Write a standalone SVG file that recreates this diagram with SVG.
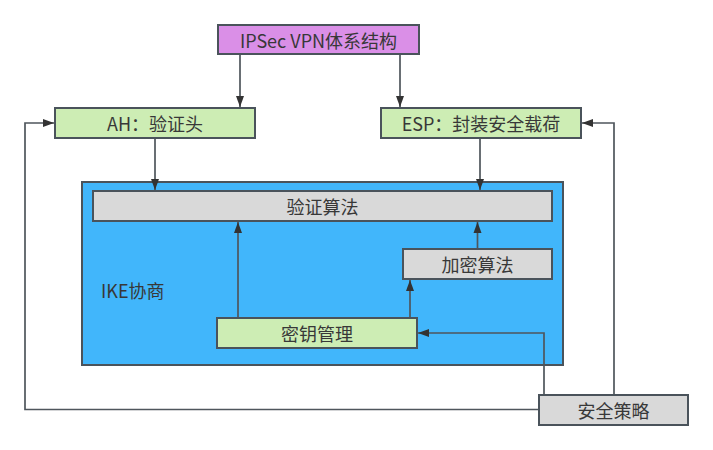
<svg xmlns="http://www.w3.org/2000/svg" width="713" height="450" viewBox="0 0 713 450">
<style>
.box{stroke:#4a535b;stroke-width:2}
.purple{fill:#da8fe7}
.green{fill:#cdedb4}
.gray{fill:#d9d9d9}
.blue{fill:#41b6fb}
.lbl{font-family:"Noto Sans CJK SC","Noto Sans",sans-serif;font-size:18px;fill:#383838;text-anchor:middle;dominant-baseline:central}
.edge{fill:none;stroke:#4f565c;stroke-width:1.7}
</style>
<defs>
<marker id="arr" viewBox="0 0 11 10" refX="11" refY="5" markerWidth="11" markerHeight="10" markerUnits="userSpaceOnUse" orient="auto">
<path d="M0,1 L11,5 L0,9 Z" fill="#333"/>
</marker>
</defs>
<rect width="713" height="450" fill="#fff"/>
<g id="ike">
<rect class="box blue" x="82" y="182" width="481" height="183"/>
<text class="lbl" x="101" y="290" style="text-anchor:start">IKE协商</text>
</g>
<g id="ipsec">
<rect class="box purple" x="218" y="25" width="201" height="29"/>
<text class="lbl" x="318.5" y="40">IPSec VPN体系结构</text>
</g>
<g id="ah">
<rect class="box green" x="55" y="108" width="200" height="30"/>
<text class="lbl" x="155" y="123">AH：验证头</text>
</g>
<g id="esp">
<rect class="box green" x="381" y="108" width="200" height="30"/>
<text class="lbl" x="481" y="123">ESP：封装安全载荷</text>
</g>
<g id="verify">
<rect class="box gray" x="93" y="191" width="459" height="30"/>
<text class="lbl" x="322.5" y="206">验证算法</text>
</g>
<g id="encrypt">
<rect class="box gray" x="403" y="249" width="149" height="30"/>
<text class="lbl" x="477.5" y="264">加密算法</text>
</g>
<g id="keymgmt">
<rect class="box green" x="217" y="318" width="200" height="30"/>
<text class="lbl" x="317" y="333">密钥管理</text>
</g>
<g id="policy">
<rect class="box gray" x="539" y="395" width="149" height="30"/>
<text class="lbl" x="613.5" y="410">安全策略</text>
</g>
<g id="connectors">
<path class="edge" d="M240,55 V107" marker-end="url(#arr)"/>
<path class="edge" d="M400,55 V107" marker-end="url(#arr)"/>
<path class="edge" d="M155,139 V190" marker-end="url(#arr)"/>
<path class="edge" d="M480,139 V190" marker-end="url(#arr)"/>
<path class="edge" d="M238,317 V222" marker-end="url(#arr)"/>
<path class="edge" d="M410,317 V280" marker-end="url(#arr)"/>
<path class="edge" d="M477.5,248 V222" marker-end="url(#arr)"/>
<path class="edge" d="M544,394 V333 H418" marker-end="url(#arr)"/>
<path class="edge" d="M614,394 V123 H582" marker-end="url(#arr)"/>
<path class="edge" d="M538,409.5 H25 V123 H54" marker-end="url(#arr)"/>
</g>
</svg>
